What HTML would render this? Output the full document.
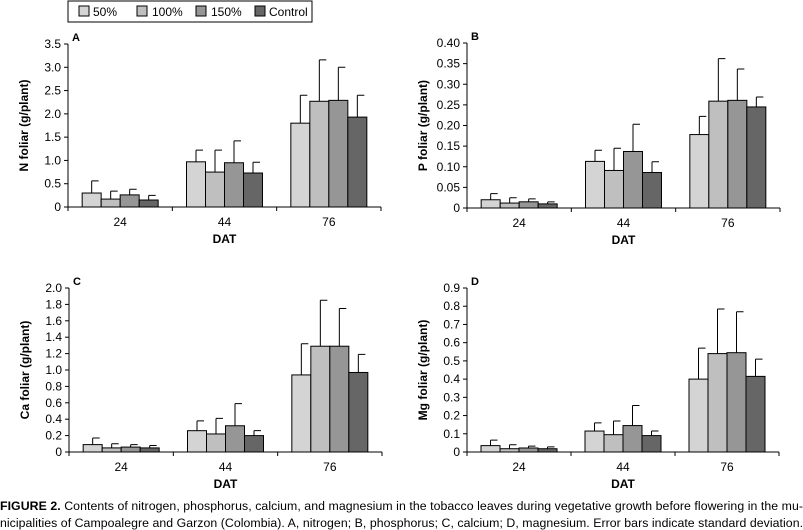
<!DOCTYPE html>
<html><head><meta charset="utf-8"><style>
body{margin:0;background:#fff;}
svg{display:block;font-family:"Liberation Sans Narrow","Liberation Sans",sans-serif;}
</style></head><body>
<svg id="fig" width="803" height="530" viewBox="0 0 803 530">
<g>
<rect x="68" y="1" width="244" height="21" fill="#fff" stroke="#000" stroke-width="1"/>
<rect x="79" y="6" width="10" height="10" fill="#d4d4d4" stroke="#000"/>
<text x="93" y="16" font-size="12">50%</text>
<rect x="137" y="6" width="10" height="10" fill="#bfbfbf" stroke="#000"/>
<text x="152" y="16" font-size="12">100%</text>
<rect x="196" y="6" width="10" height="10" fill="#969696" stroke="#000"/>
<text x="211" y="16" font-size="12">150%</text>
<rect x="255" y="6" width="10" height="10" fill="#666666" stroke="#000"/>
<text x="269" y="16" font-size="12">Control</text>
</g>
<text x="0" y="510" font-size="12.3" textLength="803" lengthAdjust="spacing"><tspan font-weight="bold">FIGURE 2.</tspan> Contents of nitrogen, phosphorus, calcium, and magnesium in the tobacco leaves during vegetative growth before flowering in the mu-</text>
<text x="0" y="527" font-size="12.3" textLength="803" lengthAdjust="spacing">nicipalities of Campoalegre and Garzon (Colombia). A, nitrogen; B, phosphorus; C, calcium; D, magnesium. Error bars indicate standard deviation.</text>
</svg>
<script>
const categories = ["24","44","76"];
const seriesNames = ["50%","100%","150%","Control"];
const colors = ["#d4d4d4","#bfbfbf","#969696","#666666"];
// Panel A: N
const nMean = [[0.30,0.97,1.80],[0.17,0.75,2.27],[0.26,0.95,2.29],[0.15,0.73,1.93]];
const nSD = [[0.26,0.25,0.60],[0.17,0.47,0.89],[0.12,0.47,0.71],[0.10,0.23,0.47]];
const nTicks = ["0","0.5","1.0","1.5","2.0","2.5","3.0","3.5"];
// Panel B: P
const pMean = [[0.020,0.113,0.178],[0.012,0.091,0.259],[0.015,0.137,0.261],[0.010,0.086,0.245]];
const pSD = [[0.015,0.027,0.044],[0.013,0.054,0.103],[0.007,0.066,0.076],[0.005,0.026,0.024]];
const pTicks = ["0","0.05","0.10","0.15","0.20","0.25","0.30","0.35","0.40"];
// Panel C: Ca
const caMean = [[0.09,0.26,0.94],[0.05,0.22,1.29],[0.06,0.32,1.29],[0.05,0.20,0.97]];
const caSD = [[0.08,0.12,0.38],[0.05,0.19,0.56],[0.03,0.27,0.46],[0.03,0.06,0.22]];
const caTicks = ["0","0.2","0.4","0.6","0.8","1.0","1.2","1.4","1.6","1.8","2.0"];
// Panel D: Mg
const mgMean = [[0.035,0.115,0.40],[0.018,0.095,0.54],[0.022,0.145,0.545],[0.018,0.090,0.415]];
const mgSD = [[0.030,0.045,0.17],[0.022,0.075,0.245],[0.010,0.110,0.225],[0.010,0.025,0.095]];
const mgTicks = ["0","0.1","0.2","0.3","0.4","0.5","0.6","0.7","0.8","0.9"];

const NS="http://www.w3.org/2000/svg";
const svg=document.getElementById('fig');
function mk(tag,attrs,parent){const e=document.createElementNS(NS,tag);for(const k in attrs)e.setAttribute(k,attrs[k]);(parent||svg).appendChild(e);return e;}

function panel(cfg){
  const g=mk('g',{});
  
  
  const {x0,x1,yTop,yBot,ticks,means,sds,letter,title}=cfg;
  const ymax=parseFloat(ticks[ticks.length-1]);
  const ys=v=>yBot-(v/ymax)*(yBot-yTop);
  const gw=(x1-x0)/categories.length;
  const bw=19;
  const xs=(ci,si)=>x0+ci*gw+(gw-4*bw)/2+si*bw;
  // axes
  const ya=mk('line',{x1:x0,y1:yTop,x2:x0,y2:yBot,stroke:'#000'},g);
  
  
  const xa=mk('line',{x1:x0,y1:yBot,x2:x1,y2:yBot,stroke:'#000'},g);
  
  
  ticks.forEach((t)=>{
    const y=ys(parseFloat(t));
    mk('line',{x1:x0-4,y1:y,x2:x0,y2:y,stroke:'#000'},g);
    const tx=mk('text',{x:x0-7,y:y+4,'font-size':12,'text-anchor':'end'},g);
    tx.textContent=t;
    
    
  });
  for(let i=0;i<=categories.length;i++){
    const x=x0+i*gw;
    mk('line',{x1:x,y1:yBot,x2:x,y2:yBot+4,stroke:'#000'},g);
  }
  categories.forEach((c,ci)=>{
    const tx=mk('text',{x:x0+(ci+0.5)*gw,y:yBot+19,'font-size':12,'text-anchor':'middle'},g);
    tx.textContent=c;
    
    
    means.forEach((ser,si)=>{
      const v=ser[ci],x=xs(ci,si),y=ys(v);
      const r=mk('rect',{x:x,y:y,width:bw,height:yBot-y,fill:colors[si],stroke:'#000','stroke-width':1},g);
      
      
      const ye=ys(v+sds[si][ci]),cx=x+bw/2;
      const e=mk('path',{d:`M${cx},${y}V${ye}M${cx},${ye}H${cx+7}`,stroke:'#000',fill:'none'},g);
      
      
    });
  });
  const xt=mk('text',{x:(x0+x1)/2,y:yBot+36,'font-size':12,'font-weight':'bold','text-anchor':'middle'},g);
  xt.textContent='DAT';
  
  
  const cy=(yTop+yBot)/2;
  const yt=mk('text',{x:x0-40,y:cy,'font-size':12,'font-weight':'bold','text-anchor':'middle',transform:`rotate(-90 ${x0-40} ${cy})`},g);
  yt.textContent=title;
  
  
  const lt=mk('text',{x:x0+4,y:yTop-3,'font-size':11,'font-weight':'bold'},g);
  lt.textContent=letter;
  
  
}
panel({name:'panel-a-nitrogen',x0:68,x1:381,yTop:44,yBot:207,ticks:nTicks,means:nMean,sds:nSD,letter:'A',title:'N foliar (g/plant)'});
panel({name:'panel-b-phosphorus',x0:467,x1:780,yTop:43,yBot:208,ticks:pTicks,means:pMean,sds:pSD,letter:'B',title:'P foliar (g/plant)'});
panel({name:'panel-c-calcium',x0:69,x1:382,yTop:288,yBot:452,ticks:caTicks,means:caMean,sds:caSD,letter:'C',title:'Ca foliar (g/plant)'});
panel({name:'panel-d-magnesium',x0:467,x1:779,yTop:288,yBot:452,ticks:mgTicks,means:mgMean,sds:mgSD,letter:'D',title:'Mg foliar (g/plant)'});
</script>
</body></html>
